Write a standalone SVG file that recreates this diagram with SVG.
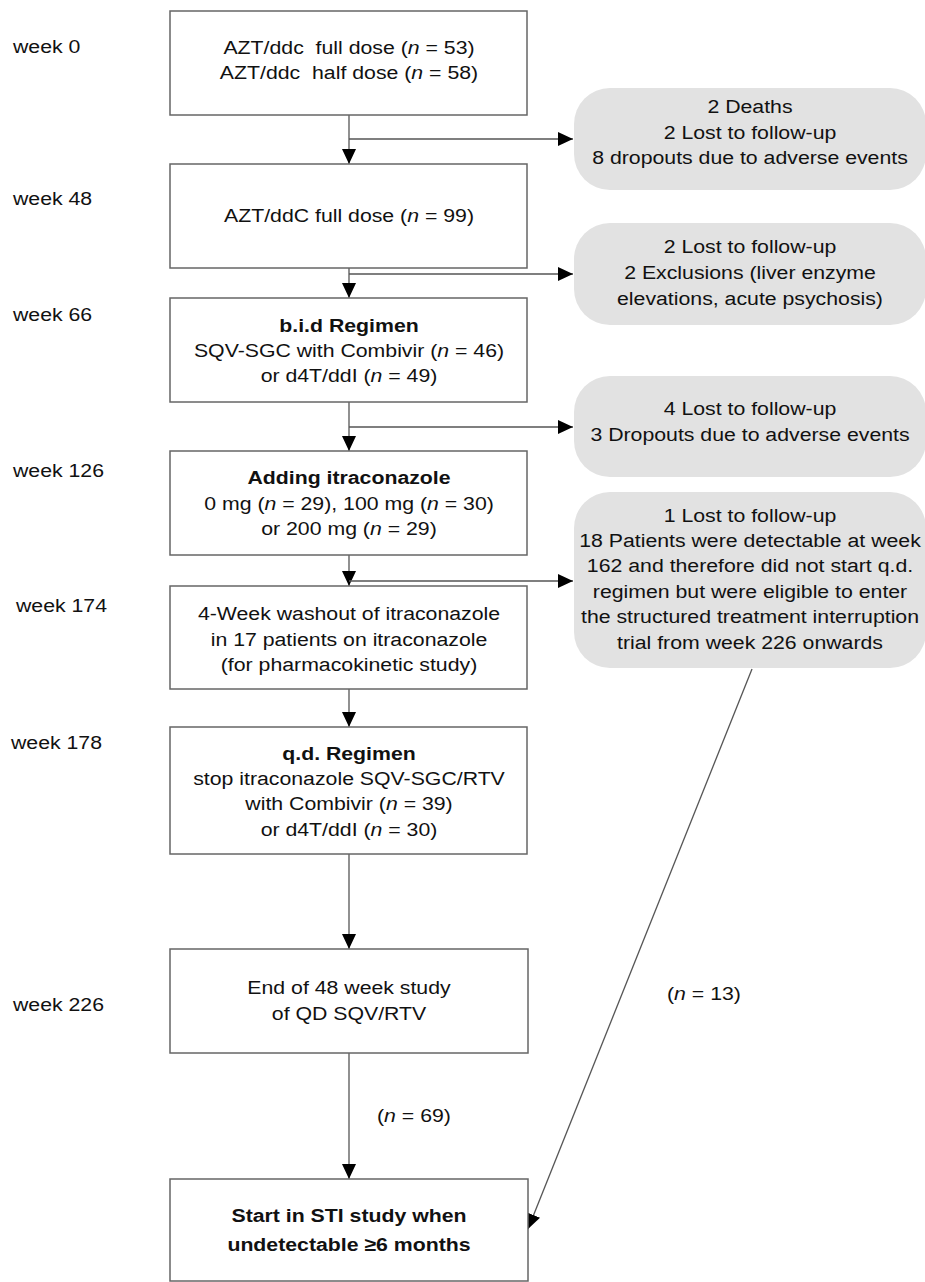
<svg xmlns="http://www.w3.org/2000/svg" width="925" height="1282" viewBox="0 0 925 1282">
<style>
text{font-family:"Liberation Sans",Arial,sans-serif;font-size:19px;fill:#111;}
.c{text-anchor:middle;}
.b{font-weight:bold;}
.i{font-style:italic;}
.box{fill:#fff;stroke:#666;stroke-width:1.5;}
.gbox{fill:#e2e2e2;stroke:none;}
.ln{fill:none;stroke:#555;stroke-width:1.3;}
</style>
<defs>
<marker id="ah" viewBox="0 0 15 14" refX="15" refY="7" markerWidth="15" markerHeight="14" orient="auto" markerUnits="userSpaceOnUse">
<path d="M0,0 L15,7 L0,14 z" fill="#000"/>
</marker>
</defs>
<rect width="925" height="1282" fill="#fff"/>

<g id="weeks">
<text transform="translate(13,0) scale(1.12,1)" x="0" y="53">week 0</text>
<text transform="translate(13,0) scale(1.12,1)" x="0" y="205">week 48</text>
<text transform="translate(13,0) scale(1.12,1)" x="0" y="321">week 66</text>
<text transform="translate(13,0) scale(1.12,1)" x="0" y="477">week 126</text>
<text transform="translate(16,0) scale(1.12,1)" x="0" y="612">week 174</text>
<text transform="translate(11,0) scale(1.12,1)" x="0" y="749">week 178</text>
<text transform="translate(13,0) scale(1.12,1)" x="0" y="1011">week 226</text>
</g>

<g id="connectors">
<line class="ln" x1="349" y1="115" x2="349" y2="164" marker-end="url(#ah)"/>
<line class="ln" x1="349" y1="139" x2="573" y2="139" marker-end="url(#ah)"/>
<line class="ln" x1="349" y1="268" x2="349" y2="298" marker-end="url(#ah)"/>
<line class="ln" x1="349" y1="274" x2="573" y2="274" marker-end="url(#ah)"/>
<line class="ln" x1="349" y1="402" x2="349" y2="451" marker-end="url(#ah)"/>
<line class="ln" x1="349" y1="427" x2="573" y2="427" marker-end="url(#ah)"/>
<line class="ln" x1="349" y1="555" x2="349" y2="586" marker-end="url(#ah)"/>
<line class="ln" x1="349" y1="581" x2="573" y2="581" marker-end="url(#ah)"/>
<line class="ln" x1="349" y1="689" x2="349" y2="727" marker-end="url(#ah)"/>
<line class="ln" x1="349" y1="854" x2="349" y2="949" marker-end="url(#ah)"/>
<line class="ln" x1="349" y1="1053" x2="349" y2="1179" marker-end="url(#ah)"/>
<line class="ln" x1="752" y1="669" x2="528" y2="1229" marker-end="url(#ah)"/>
<text transform="translate(377,0) scale(1.12,1)" x="0" y="1122">(<tspan class="i">n</tspan> = 69)</text>
<text transform="translate(667,0) scale(1.12,1)" x="0" y="1000">(<tspan class="i">n</tspan> = 13)</text>
</g>

<g id="n1">
<rect class="box" x="170" y="11" width="357" height="104"/>
<text class="c" transform="translate(349,0) scale(1.12,1)" xml:space="preserve"><tspan x="0" y="54">AZT/ddc  full dose (<tspan class="i">n</tspan> = 53)</tspan><tspan x="0" y="79">AZT/ddc  half dose (<tspan class="i">n</tspan> = 58)</tspan></text>
</g>

<g id="n2">
<rect class="box" x="170" y="164" width="357" height="104"/>
<text class="c" transform="translate(349,0) scale(1.12,1)" x="0" y="222">AZT/ddC full dose (<tspan class="i">n</tspan> = 99)</text>
</g>

<g id="n3">
<rect class="box" x="170" y="298" width="357" height="104"/>
<text class="c" transform="translate(349,0) scale(1.12,1)"><tspan class="b" x="0" y="332">b.i.d Regimen</tspan><tspan x="0" y="357">SQV-SGC with Combivir (<tspan class="i">n</tspan> = 46)</tspan><tspan x="0" y="382">or d4T/ddI (<tspan class="i">n</tspan> = 49)</tspan></text>
</g>

<g id="n4">
<rect class="box" x="170" y="451" width="357" height="104"/>
<text class="c" transform="translate(349,0) scale(1.12,1)"><tspan class="b" x="0" y="484">Adding itraconazole</tspan><tspan x="0" y="510">0 mg (<tspan class="i">n</tspan> = 29), 100 mg (<tspan class="i">n</tspan> = 30)</tspan><tspan x="0" y="535">or 200 mg (<tspan class="i">n</tspan> = 29)</tspan></text>
</g>

<g id="n5">
<rect class="box" x="170" y="586" width="357" height="103"/>
<text class="c" transform="translate(349,0) scale(1.12,1)"><tspan x="0" y="620">4-Week washout of itraconazole</tspan><tspan x="0" y="646">in 17 patients on itraconazole</tspan><tspan x="0" y="671">(for pharmacokinetic study)</tspan></text>
</g>

<g id="n6">
<rect class="box" x="170" y="727" width="357" height="127"/>
<text class="c" transform="translate(349,0) scale(1.12,1)"><tspan class="b" x="0" y="760">q.d. Regimen</tspan><tspan x="0" y="785">stop itraconazole SQV-SGC/RTV</tspan><tspan x="0" y="810">with Combivir (<tspan class="i">n</tspan> = 39)</tspan><tspan x="0" y="836">or d4T/ddI (<tspan class="i">n</tspan> = 30)</tspan></text>
</g>

<g id="n7">
<rect class="box" x="170" y="949" width="358" height="104"/>
<text class="c" transform="translate(349,0) scale(1.12,1)"><tspan x="0" y="994">End of 48 week study</tspan><tspan x="0" y="1020">of QD SQV/RTV</tspan></text>
</g>

<g id="n8">
<rect class="box" x="170" y="1179" width="358" height="102"/>
<text class="c b" transform="translate(349,0) scale(1.12,1)"><tspan x="0" y="1222">Start in STI study when</tspan><tspan x="0" y="1251">undetectable ≥6 months</tspan></text>
</g>

<g id="g1">
<rect class="gbox" x="574" y="88" width="352" height="102" rx="36"/>
<text class="c" transform="translate(750,0) scale(1.12,1)"><tspan x="0" y="113">2 Deaths</tspan><tspan x="0" y="139">2 Lost to follow-up</tspan><tspan x="0" y="164">8 dropouts due to adverse events</tspan></text>
</g>

<g id="g2">
<rect class="gbox" x="574" y="223" width="352" height="102" rx="36"/>
<text class="c" transform="translate(750,0) scale(1.12,1)"><tspan x="0" y="253">2 Lost to follow-up</tspan><tspan x="0" y="279">2 Exclusions (liver enzyme</tspan><tspan x="0" y="305">elevations, acute psychosis)</tspan></text>
</g>

<g id="g3">
<rect class="gbox" x="574" y="376" width="352" height="101" rx="36"/>
<text class="c" transform="translate(750,0) scale(1.12,1)"><tspan x="0" y="415">4 Lost to follow-up</tspan><tspan x="0" y="441">3 Dropouts due to adverse events</tspan></text>
</g>

<g id="g4">
<rect class="gbox" x="574" y="492" width="352" height="176" rx="36"/>
<text class="c" transform="translate(750,0) scale(1.12,1)"><tspan x="0" y="522">1 Lost to follow-up</tspan><tspan x="0" y="547">18 Patients were detectable at week</tspan><tspan x="0" y="572">162 and therefore did not start q.d.</tspan><tspan x="0" y="598">regimen but were eligible to enter</tspan><tspan x="0" y="623">the structured treatment interruption</tspan><tspan x="0" y="649">trial from week 226 onwards</tspan></text>
</g>
</svg>
